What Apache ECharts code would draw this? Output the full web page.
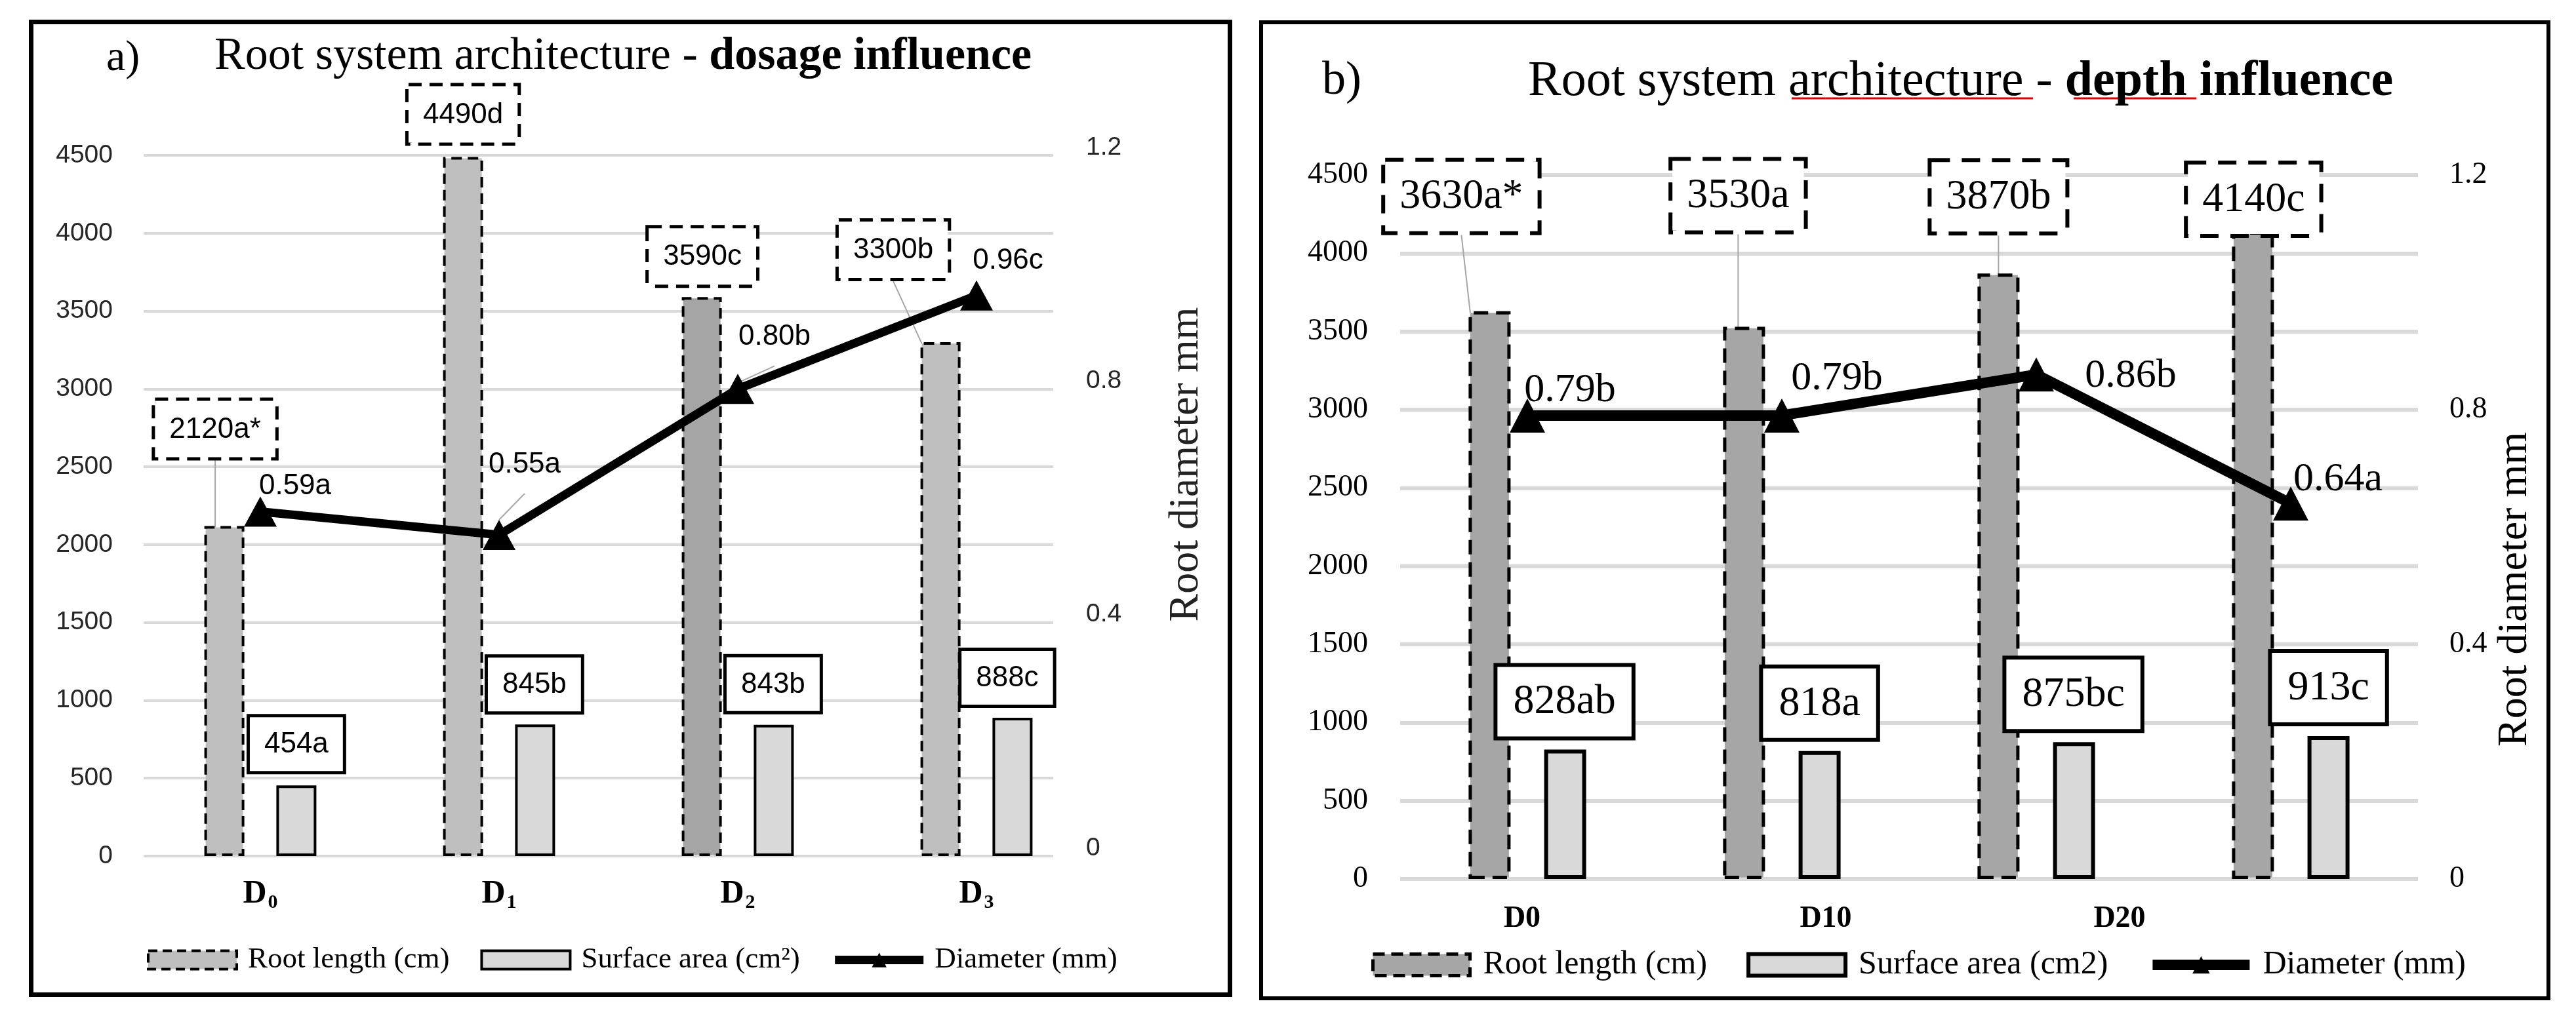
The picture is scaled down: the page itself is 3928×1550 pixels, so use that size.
<!DOCTYPE html>
<html><head><meta charset="utf-8">
<script src="https://cdn.jsdelivr.net/npm/echarts@6/dist/echarts.min.js"></script>
<style>html,body{margin:0;padding:0;background:#fff}#c{width:3928px;height:1550px}</style>
</head><body><div id="c"></div>
<script>
// ---------- Panel a) dosage influence ----------
const catsA = ['D0', 'D1', 'D2', 'D3'];
const rootA = [2120, 4490, 3590, 3300];
const rootLetA = ['a*', 'd', 'c', 'b'];
const surfA = [454, 845, 843, 888];
const surfLetA = ['a', 'b', 'b', 'c'];
const diamA = [0.59, 0.55, 0.80, 0.96];
const diamLetA = ['a', 'a', 'b', 'c'];
// ---------- Panel b) depth influence ----------
const catsB = ['D0', 'D10', 'D20', ''];
const rootB = [3630, 3530, 3870, 4140];
const rootLetB = ['a*', 'a', 'b', 'c'];
const surfB = [828, 818, 875, 913];
const surfLetB = ['ab', 'a', 'bc', 'c'];
const diamB = [0.79, 0.79, 0.86, 0.64];
const diamLetB = ['b', 'b', 'b', 'a'];
// axis scales
const lenAxis = { min: 0, max: 4500, interval: 500 };
const diaAxis = { min: 0, max: 1.2, interval: 0.4 };

// ---------- styling / label placement (px) ----------
const SANS = "'Liberation Sans', Arial, sans-serif";
const SERIF = "'Liberation Serif', 'Times New Roman', serif";
const rootColA = ['#bfbfbf', '#bfbfbf', '#a5a5a5', '#bfbfbf'];
const rootOffA = [[-14, -105], [0, -22], [1, -19], [-72, -98]];
const rootLineA = [true, false, false, true];
const surfOffA = [[0, -22], [-1, -20], [-1, -21], [-8, -20]];
const diamOffA = [[53, 6], [39, -62], [56, -34], [48, -8]];
const diamLineA = [false, true, true, false];
const rootOffB = [[-43, -122], [-9, -147], [0, -64], [1, 4]];
const rootLineB = [true, true, true, false];
const surfOffB = [[-1, -20], [0, -20], [-1, -20], [0, -21]];
const diamOffB = [[65, 19], [84, 1], [144, 59], [72, 21]];
const catShiftB = [-8, 67, 127, 0];
const legendNames = {
  a_root: 'Root length (cm)', a_surf: 'Surface area (cm\u00B2)', a_diam: 'Diameter (mm)',
  b_root: 'Root length (cm)', b_surf: 'Surface area (cm2)', b_diam: 'Diameter (mm)'
};

function barItems(vals, lines, colors) {
  return vals.map((v, i) => {
    const o = { value: v, labelLine: { show: !!(lines && lines[i]) } };
    if (colors) o.itemStyle = { color: colors[i] };
    return o;
  });
}
function lineItems(vals, offs, lines) {
  return vals.map((v, i) => ({ value: v, label: { offset: offs[i] }, labelLine: { show: !!(lines && lines[i]) } }));
}
function placeOver(offs) {
  return function (p) {
    const o = offs[p.dataIndex];
    return { x: p.rect.x + p.rect.width / 2 + o[0], y: p.rect.y + o[1], align: 'center', verticalAlign: 'bottom' };
  };
}
const leader = { show: false, lineStyle: { color: '#a6a6a6', width: 2 } };
const numFmt = v => String(Math.round(v * 10) / 10);

const richB = {};
catShiftB.forEach((s, i) => {
  richB['s' + i] = {
    fontFamily: SERIF, fontSize: 46, fontWeight: 'bold', color: '#000',
    padding: s >= 0 ? [0, 0, 0, 2 * s] : [0, -2 * s, 0, 0]
  };
});

const chart = echarts.init(document.getElementById('c'), null, { renderer: 'canvas' });
chart.setOption({
  animation: false,
  backgroundColor: '#fff',
  title: [
    { text: 'a)', left: 162, top: 57, padding: 0, textStyle: { fontFamily: SERIF, fontSize: 66, fontWeight: 'normal', color: '#000' } },
    { text: '{n|Root system architecture - }{b|dosage influence}', left: 327, top: 52, padding: 0,
      textStyle: { fontWeight: 'normal', rich: { n: { fontFamily: SERIF, fontSize: 70, fontWeight: 'normal', color: '#000' }, b: { fontFamily: SERIF, fontSize: 70, fontWeight: 'bold', color: '#000' } } } },
    { text: 'b)', left: 2016, top: 88, padding: 0, textStyle: { fontFamily: SERIF, fontSize: 72, fontWeight: 'normal', color: '#000' } },
    { text: '{n|Root system architecture - }{b|depth influence}', left: 2330, top: 87, padding: 0,
      textStyle: { fontWeight: 'normal', rich: { n: { fontFamily: SERIF, fontSize: 76, fontWeight: 'normal', color: '#000' }, b: { fontFamily: SERIF, fontSize: 76, fontWeight: 'bold', color: '#000' } } } }
  ],
  graphic: [
    { type: 'rect', shape: { x: 47.5, y: 33.5, width: 1828, height: 1484 }, style: { fill: 'none', stroke: '#000', lineWidth: 7 } },
    { type: 'rect', shape: { x: 1923, y: 34, width: 1963, height: 1489 }, style: { fill: 'none', stroke: '#000', lineWidth: 6 } },
    { type: 'line', shape: { x1: 2732, y1: 150, x2: 3100, y2: 150 }, style: { stroke: '#e00000', lineWidth: 3 } },
    { type: 'line', shape: { x1: 3162, y1: 150, x2: 3349, y2: 150 }, style: { stroke: '#e00000', lineWidth: 3 } }
  ],
  legend: [
    { left: 219, top: 1437, itemWidth: 135, itemHeight: 28, itemGap: 47, selectedMode: false,
      data: [
        { name: 'a_root', icon: 'rect', itemStyle: { color: '#bfbfbf', borderColor: '#000', borderWidth: 4, borderType: [14, 8] } },
        { name: 'a_surf', icon: 'rect', itemStyle: { color: '#d9d9d9', borderColor: '#000', borderWidth: 4 } },
        { name: 'a_diam', lineStyle: { width: 13, color: '#000' } }
      ],
      formatter: n => legendNames[n],
      textStyle: { fontFamily: SERIF, fontSize: 45, color: '#000', padding: [0, 0, 0, 12] } },
    { left: 2086, top: 1442, itemWidth: 148, itemHeight: 33, itemGap: 60, selectedMode: false,
      data: [
        { name: 'b_root', icon: 'rect', itemStyle: { color: '#a6a6a6', borderColor: '#000', borderWidth: 5, borderType: [18, 10] } },
        { name: 'b_surf', icon: 'rect', itemStyle: { color: '#d9d9d9', borderColor: '#000', borderWidth: 6 } },
        { name: 'b_diam', lineStyle: { width: 16, color: '#000' } }
      ],
      formatter: n => legendNames[n],
      textStyle: { fontFamily: SERIF, fontSize: 50, color: '#000', padding: [0, 0, 0, 15] } }
  ],
  grid: [
    { left: 219, top: 237, width: 1387, height: 1069 },
    { left: 215, top: 237, width: 1456, height: 1069 },
    { left: 2135, top: 267, width: 1552, height: 1074 }
  ],
  xAxis: [
    { gridIndex: 0, type: 'value', min: 0, max: 1, show: false },
    { gridIndex: 1, type: 'category', data: catsA,
      axisLine: { show: false }, axisTick: { show: false },
      axisLabel: { margin: 30, formatter: v => '{d|' + v[0] + '}{s|' + v.slice(1) + '}',
        rich: { d: { fontFamily: SERIF, fontWeight: 'bold', fontSize: 50, color: '#000' },
                s: { fontFamily: SERIF, fontWeight: 'bold', fontSize: 30, color: '#000', padding: [26, 0, 0, 2] } } } },
    { gridIndex: 2, type: 'category', data: catsB,
      axisLine: { show: false }, axisTick: { show: false },
      axisLabel: { margin: 38, formatter: (v, i) => '{s' + i + '|' + v + '}', rich: richB } }
  ],
  yAxis: [
    { gridIndex: 0, type: 'value', min: lenAxis.min, max: lenAxis.max, interval: lenAxis.interval,
      axisLine: { show: false }, axisTick: { show: false },
      axisLabel: { fontFamily: SANS, fontSize: 39, color: '#262626', margin: 47, formatter: numFmt },
      splitLine: { lineStyle: { color: '#d9d9d9', width: 4 } } },
    { gridIndex: 1, type: 'value', min: lenAxis.min, max: lenAxis.max, interval: lenAxis.interval, show: false },
    { gridIndex: 1, type: 'value', position: 'right', min: diaAxis.min, max: diaAxis.max, interval: diaAxis.interval,
      axisLine: { show: false }, axisTick: { show: false }, splitLine: { show: false },
      axisLabel: { fontFamily: SANS, fontSize: 39, color: '#262626', margin: -15, verticalAlign: 'bottom', lineHeight: 24, formatter: numFmt },
      name: 'Root diameter mm', nameLocation: 'middle', nameGap: 106,
      nameTextStyle: { fontFamily: SERIF, fontSize: 64, color: '#222', padding: [0, 0, 0, 126] } },
    { gridIndex: 2, type: 'value', min: lenAxis.min, max: lenAxis.max, interval: lenAxis.interval,
      axisLine: { show: false }, axisTick: { show: false },
      axisLabel: { fontFamily: SERIF, fontSize: 46, color: '#000', margin: 49, formatter: numFmt },
      splitLine: { lineStyle: { color: '#d9d9d9', width: 6 } } },
    { gridIndex: 2, type: 'value', position: 'right', min: diaAxis.min, max: diaAxis.max, interval: diaAxis.interval,
      axisLine: { show: false }, axisTick: { show: false }, splitLine: { show: false },
      axisLabel: { fontFamily: SERIF, fontSize: 46, color: '#000', margin: 48, formatter: numFmt },
      name: 'Root diameter mm', nameLocation: 'middle', nameGap: 116,
      nameTextStyle: { fontFamily: SERIF, fontSize: 64, color: '#000', padding: [0, 190, 0, 0] } }
  ],
  series: [
    // ----- panel a -----
    { name: 'a_root', type: 'bar', xAxisIndex: 1, yAxisIndex: 1, barWidth: 61, barGap: '80%',
      itemStyle: { color: '#bfbfbf', borderColor: '#000', borderWidth: 4, borderType: [16, 9] },
      label: { show: true, position: 'top', distance: 0, formatter: p => p.value + rootLetA[p.dataIndex],
        fontFamily: SANS, fontSize: 44, color: '#000', backgroundColor: '#fff',
        borderColor: '#000', borderWidth: 5, borderType: [20, 12], padding: [22, 22, 20, 22] },
      labelLine: leader, labelLayout: placeOver(rootOffA),
      data: barItems(rootA, rootLineA, rootColA) },
    { name: 'a_surf', type: 'bar', xAxisIndex: 1, yAxisIndex: 1, barWidth: 61, barGap: '80%',
      itemStyle: { color: '#d9d9d9', borderColor: '#000', borderWidth: 4 },
      label: { show: true, position: 'top', distance: 0, formatter: p => p.value + surfLetA[p.dataIndex],
        fontFamily: SANS, fontSize: 44, color: '#000', backgroundColor: '#fff',
        borderColor: '#000', borderWidth: 5, padding: [20, 22, 18, 22] },
      labelLine: leader, labelLayout: placeOver(surfOffA),
      data: barItems(surfA, null, null) },
    { name: 'a_diam', type: 'line', xAxisIndex: 1, yAxisIndex: 2, z: 5,
      symbol: 'triangle', symbolSize: [50, 46], showSymbol: true,
      lineStyle: { color: '#000', width: 13 }, itemStyle: { color: '#000' },
      label: { show: true, position: 'top', distance: 0, formatter: p => p.value.toFixed(2) + diamLetA[p.dataIndex],
        fontFamily: SANS, fontSize: 44, color: '#000' },
      labelLine: leader,
      data: lineItems(diamA, diamOffA, diamLineA) },
    // ----- panel b -----
    { name: 'b_root', type: 'bar', xAxisIndex: 2, yAxisIndex: 3, barWidth: 64, barGap: '80%',
      itemStyle: { color: '#a6a6a6', borderColor: '#000', borderWidth: 5, borderType: [22, 12] },
      label: { show: true, position: 'top', distance: 0, formatter: p => p.value + rootLetB[p.dataIndex],
        fontFamily: SERIF, fontSize: 64, color: '#000', backgroundColor: '#fff',
        borderColor: '#000', borderWidth: 6, borderType: [28, 18], padding: [22, 22, 20, 22] },
      labelLine: leader, labelLayout: placeOver(rootOffB),
      data: barItems(rootB, rootLineB, null) },
    { name: 'b_surf', type: 'bar', xAxisIndex: 2, yAxisIndex: 3, barWidth: 64, barGap: '80%',
      itemStyle: { color: '#d9d9d9', borderColor: '#000', borderWidth: 6 },
      label: { show: true, position: 'top', distance: 0, formatter: p => p.value + surfLetB[p.dataIndex],
        fontFamily: SERIF, fontSize: 64, color: '#000', backgroundColor: '#fff',
        borderColor: '#000', borderWidth: 6, padding: [22, 24, 20, 24] },
      labelLine: leader, labelLayout: placeOver(surfOffB),
      data: barItems(surfB, null, null) },
    { name: 'b_diam', type: 'line', xAxisIndex: 2, yAxisIndex: 4, z: 5,
      symbol: 'triangle', symbolSize: [54, 52], showSymbol: true,
      lineStyle: { color: '#000', width: 16 }, itemStyle: { color: '#000' },
      label: { show: true, position: 'top', distance: 0, formatter: p => p.value.toFixed(2) + diamLetB[p.dataIndex],
        fontFamily: SERIF, fontSize: 62, color: '#000' },
      labelLine: leader,
      data: lineItems(diamB, diamOffB, null) }
  ]
});
</script>
</body></html>
